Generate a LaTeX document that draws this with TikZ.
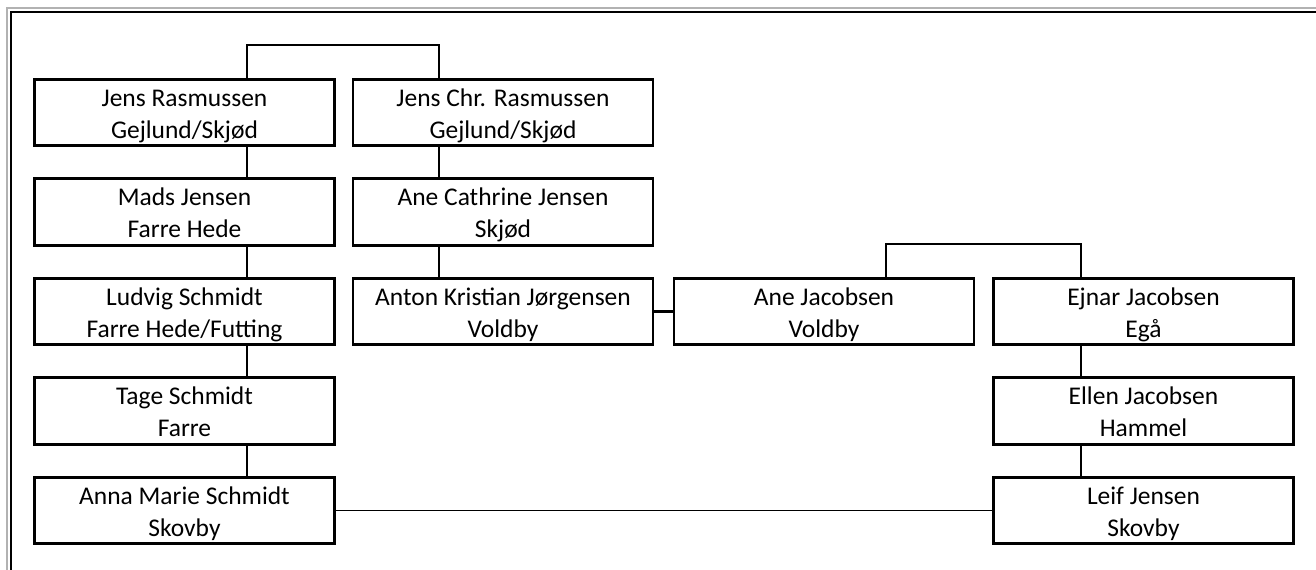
\documentclass[tikz,border=0pt]{standalone}
\usepackage{fontspec}
\setmainfont{Carlito}
\usepackage{tikz}
\usetikzlibrary{positioning}

\newcommand{\twolines}[2]{\rule{0pt}{15pt}#1\\#2\rule[-4pt]{0pt}{4pt}}

\begin{document}
\begin{tikzpicture}[
        person/.style = {draw, line width = 1.6pt, rectangle, align = center,
            minimum width = 6cm, minimum height = 1.33cm, inner sep = 0pt,
            font = \fontsize{14.5}{18.4}\selectfont},
        thin line/.style = {line width = 0.8pt},
        thick line/.style = {line width = 1.5pt}
    ]
        \useasboundingbox (0, 0) rectangle (26.32, -11.4);

        % frame
        \draw[color = gray!60, line width = 0.6pt] (0.14, -11.4) |- (26.32, -0.16);
        \draw[line width = 1.2pt] (0.22, -11.4) |- (26.32, -0.24);

        \node[person] (jr) at (3.69, -2.25) {\twolines{Jens Rasmussen}{Gejlund/Skjød}};
        \node[person] (md) at (3.69, -4.24) {\twolines{Mads Jensen}{Farre Hede}};
        \node[person] (ls) at (3.69, -6.23) {\twolines{Ludvig Schmidt}{Farre Hede/Futting}};
        \node[person] (ts) at (3.69, -8.22) {\twolines{Tage Schmidt}{Farre}};
        \node[person] (am) at (3.69, -10.21) {\twolines{Anna Marie Schmidt}{Skovby}};

        \node[person] (jc) at (10.06, -2.25) {\twolines{Jens Chr. Rasmussen}{Gejlund/Skjød}};
        \node[person] (ac) at (10.06, -4.24) {\twolines{Ane Cathrine Jensen}{Skjød}};
        \node[person] (ak) at (10.06, -6.23) {\twolines{Anton Kristian Jørgensen}{Voldby}};

        \node[person] (aj) at (16.48, -6.23) {\twolines{Ane Jacobsen}{Voldby}};

        \node[person] (ej) at (22.87, -6.23) {\twolines{Ejnar Jacobsen}{Egå}};
        \node[person] (ell) at (22.87, -8.22) {\twolines{Ellen Jacobsen}{Hammel}};
        \node[person] (lj) at (22.87, -10.21) {\twolines{Leif Jensen}{Skovby}};

        % couples
        \draw[thick line] ([xshift = 1.25cm]jr.north) -- ++(0, 0.66) -| ([xshift = -1.28cm]jc.north);
        \draw[thick line] ([xshift = 1.24cm]aj.north) -- ++(0, 0.66) -| ([xshift = -1.25cm]ej.north);
        \draw[thick line] (ak.east) -- (aj.west);
        \draw[thin line] (am.east) -- (lj.west);

        % children
        \draw[thin line] ([xshift = 1.25cm]jr.south) -- ([xshift = 1.25cm]md.north);
        \draw[thin line] ([xshift = 1.25cm]md.south) -- ([xshift = 1.25cm]ls.north);
        \draw[thin line] ([xshift = 1.25cm]ls.south) -- ([xshift = 1.25cm]ts.north);
        \draw[thin line] ([xshift = 1.25cm]ts.south) -- ([xshift = 1.25cm]am.north);
        \draw[thick line] ([xshift = -1.28cm]jc.south) -- ([xshift = -1.28cm]ac.north);
        \draw[thick line] ([xshift = -1.28cm]ac.south) -- ([xshift = -1.28cm]ak.north);
        \draw[thick line] ([xshift = -1.25cm]ej.south) -- ([xshift = -1.25cm]ell.north);
        \draw[thick line] ([xshift = -1.25cm]ell.south) -- ([xshift = -1.25cm]lj.north);
    \end{tikzpicture}
\end{document}
